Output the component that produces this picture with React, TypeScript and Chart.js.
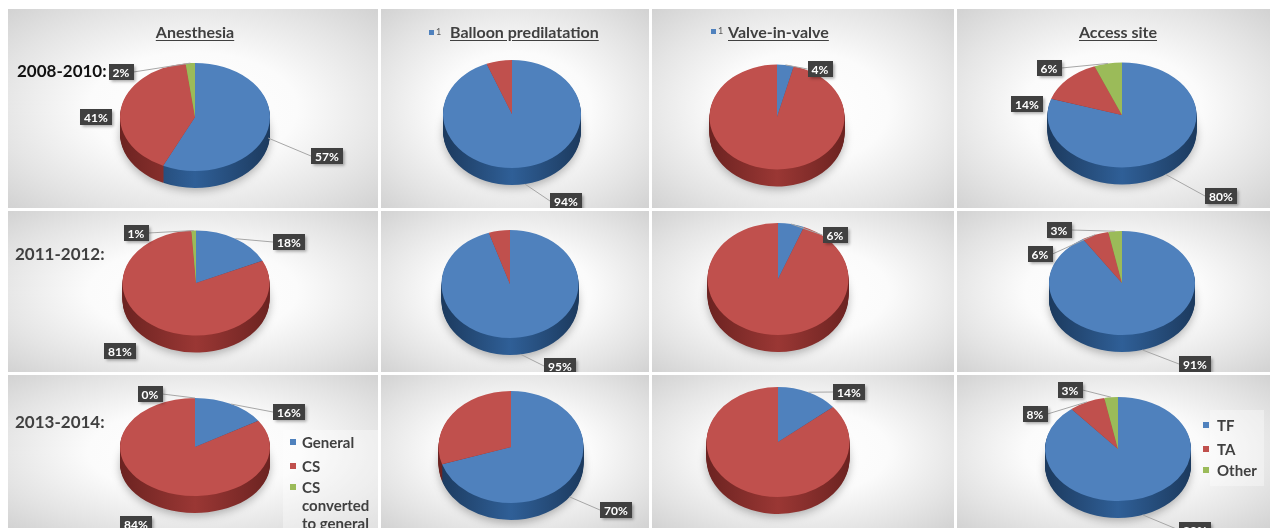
import React, { useEffect, useRef } from "react";
import { Chart, registerables } from "chart.js";

Chart.register(...registerables);

// ---------------- DATA ----------------
const columnTitles = ["Anesthesia", "Balloon predilatation", "Valve-in-valve", "Access site"];
const periodLabels = ["2008-2010:", "2011-2012:", "2013-2014:"];

const anesthesiaCategories = ["General", "CS", "CS converted to general"];
const balloonCategories = ["1", "2"];
const valveCategories = ["1", "2"];
const accessCategories = ["TF", "TA", "Other"];

const anesthesia2008 = [57, 41, 2];
const anesthesia2011 = [18, 81, 1];
const anesthesia2013 = [16, 84, 0];

const balloon2008 = [94, 6];
const balloon2011 = [95, 5];
const balloon2013 = [70, 30];

const valve2008 = [4, 96];
const valve2011 = [6, 94];
const valve2013 = [14, 86];

const access2008 = [80, 14, 6];
const access2011 = [91, 6, 3];
const access2013 = [89, 8, 3];

const categoriesByColumn = [anesthesiaCategories, balloonCategories, valveCategories, accessCategories];
const valuesGrid = [
  [anesthesia2008, balloon2008, valve2008, access2008],
  [anesthesia2011, balloon2011, valve2011, access2011],
  [anesthesia2013, balloon2013, valve2013, access2013],
];

// ---------------- LAYOUT / STYLE ----------------
const COLS = [
  { x: 8, w: 370 },
  { x: 381, w: 268 },
  { x: 652, w: 302 },
  { x: 957, w: 313 },
];
const ROWS = [
  { y: 9, h: 199 },
  { y: 211, h: 161 },
  { y: 375, h: 153 },
];

// pie center x, center y, horizontal radius, vertical radius (page coords)
const PIE_GEOM = [
  [[195, 117, 75, 54], [512, 114, 69, 54], [777, 117, 67.5, 52.5], [1122, 115, 74.5, 52.5]],
  [[196, 283, 73.5, 52.5], [510, 284, 68.5, 54], [778, 279, 70.5, 56], [1122, 283, 73, 52]],
  [[195, 447, 75, 49], [511, 447, 72.5, 56], [778, 442, 71.5, 55], [1118, 449, 73, 52]],
];
const DEPTH = 17;

// data-label box offsets from the pie centre [dx, dy, leaderLine]
const LABEL_POS = [
  [[[132, 39, 1], [-99, 0, 0], [-74, -45, 1]], [[54, 87, 1]], [[43, -48, 1]], [[99, 81, 1], [-95, -11, 0], [-73, -47, 1]]],
  [[[93, -41, 1], [-76, 68, 0], [-60, -50, 1]], [[50, 82, 1]], [[57, -44, 1]], [[73, 81, 1], [-82, -29, 1], [-63, -53, 1]]],
  [[[94, -35, 1], [-59, 77, 0], [-45, -53, 1]], [[105, 63, 1]], [[71, -50, 1]], [[77, 81, 1], [-83, -35, 1], [-48, -59, 1]]],
];

const TOP_COLORS = ["#4f81bd", "#c0504d", "#9bbb59"];
const SIDE_COLORS = [
  ["#1c3a5e", "#2f5f97"],
  ["#6c2321", "#9a3734"],
  ["#55692b", "#7a9541"],
];
const TEXT_DARK = "#404040";
const FONT = 'Lato, "Open Sans", "DejaVu Sans", sans-serif';

// ---------------- 3D PIE PLUGIN ----------------
const pie3d: any = {
  id: "pie3d",
  beforeDatasetsDraw(chart: any, _args: any, opts: any) {
    const arcs = chart.getDatasetMeta(0).data as any[];
    chart.$pie3dSaved = false;
    if (!arcs.length) return;
    const ctx = chart.ctx as CanvasRenderingContext2D;
    const { x: cx, y: cy, outerRadius: r } = arcs[0].getProps(["x", "y", "outerRadius"]);
    const k = opts.tilt;
    const d = opts.depth;
    const fills = SIDE_COLORS.map(([dark, mid]) => {
      const g = ctx.createLinearGradient(cx - r, 0, cx + r, 0);
      g.addColorStop(0, dark);
      g.addColorStop(0.5, mid);
      g.addColorStop(1, dark);
      return g;
    });
    for (let i = d; i >= 1; i--) {
      ctx.save();
      if (i === d) {
        ctx.shadowColor = "rgba(0,0,0,0.28)";
        ctx.shadowBlur = 9;
        ctx.shadowOffsetY = 3;
      }
      ctx.translate(cx, cy + i);
      ctx.scale(1, k);
      ctx.translate(-cx, -cy);
      arcs.forEach((arc: any, j: number) => {
        const p = arc.getProps(["startAngle", "endAngle"]);
        if (p.endAngle - p.startAngle <= 1e-6) return;
        ctx.beginPath();
        ctx.moveTo(cx, cy);
        ctx.arc(cx, cy, r, p.startAngle, p.endAngle);
        ctx.closePath();
        ctx.fillStyle = fills[j];
        ctx.fill();
      });
      ctx.restore();
    }
    ctx.save();
    ctx.translate(cx, cy);
    ctx.scale(1, k);
    ctx.translate(-cx, -cy);
    chart.$pie3dSaved = true;
  },
  afterDatasetsDraw(chart: any, _args: any, opts: any) {
    const ctx = chart.ctx as CanvasRenderingContext2D;
    if (!chart.$pie3dSaved) return;
    ctx.restore();
    chart.$pie3dSaved = false;
    const arcs = chart.getDatasetMeta(0).data as any[];
    const { x: cx, y: cy, outerRadius: r } = arcs[0].getProps(["x", "y", "outerRadius"]);
    const k = opts.tilt;
    const d = opts.depth;
    const values = chart.data.datasets[0].data as number[];
    (opts.labels as any[]).forEach((lab: any, i: number) => {
      if (!lab || !arcs[i]) return;
      const text = values[i] + "%";
      ctx.save();
      ctx.font = `bold 12px ${FONT}`;
      const tw = ctx.measureText(text).width;
      const bw = Math.round(tw + 8);
      const bh = 16;
      const lx = cx + lab[0];
      const ly = cy + lab[1];
      const bx0 = lx - bw / 2, bx1 = lx + bw / 2, by0 = ly - bh / 2, by1 = ly + bh / 2;
      if (lab[2]) {
        const p = arcs[i].getProps(["startAngle", "endAngle"]);
        const mid = (p.startAngle + p.endAngle) / 2;
        const s = Math.sin(mid);
        const ax = cx + r * Math.cos(mid);
        let ay = cy + r * k * s;
        if (s > 0) ay += d * Math.min(1, s * 2.5);
        let ex: number, ey: number;
        if (ax < bx0) { ex = bx0; ey = ly; }
        else if (ax > bx1) { ex = bx1; ey = ly; }
        else if (ay < by0) { ex = lx; ey = by0; }
        else { ex = lx; ey = by1; }
        ctx.strokeStyle = "#a6a6a6";
        ctx.lineWidth = 1;
        ctx.beginPath();
        ctx.moveTo(ax, ay);
        ctx.lineTo(ex, ey);
        ctx.stroke();
      }
      ctx.shadowColor = "rgba(0,0,0,0.35)";
      ctx.shadowBlur = 3;
      ctx.shadowOffsetX = 1.5;
      ctx.shadowOffsetY = 1.5;
      ctx.fillStyle = TEXT_DARK;
      ctx.fillRect(Math.round(bx0), Math.round(by0), bw, bh);
      ctx.shadowColor = "transparent";
      ctx.fillStyle = "#ffffff";
      ctx.textAlign = "center";
      ctx.textBaseline = "middle";
      ctx.fillText(text, Math.round(lx), Math.round(ly) + 1);
      ctx.restore();
    });
  },
};

// ---------------- COMPONENTS ----------------
function PiePanel(props: { ri: number; ci: number }) {
  const { ri, ci } = props;
  const ref = useRef<HTMLCanvasElement | null>(null);
  const col = COLS[ci];
  const row = ROWS[ri];
  useEffect(() => {
    const [acx, acy, rx, ry] = PIE_GEOM[ri][ci];
    const w = col.w, h = row.h;
    const cx = acx - col.x;
    const cy = acy - row.y;
    const padL = Math.max(0, 2 * cx - w);
    const padR = Math.max(0, w - 2 * cx);
    const padT = Math.max(0, 2 * cy - h);
    const padB = Math.max(0, h - 2 * cy);
    const values = valuesGrid[ri][ci];
    const chart = new Chart(ref.current as HTMLCanvasElement, {
      type: "pie",
      data: {
        labels: categoriesByColumn[ci],
        datasets: [
          {
            data: values,
            backgroundColor: TOP_COLORS.slice(0, values.length),
            borderWidth: 0,
            clip: false,
            radius: rx,
          } as any,
        ],
      },
      options: {
        responsive: false,
        animation: false,
        radius: rx,
        layout: { padding: { left: padL, right: padR, top: padT, bottom: padB } },
        plugins: {
          legend: { display: false },
          tooltip: { enabled: false },
          pie3d: { tilt: ry / rx, depth: DEPTH, labels: LABEL_POS[ri][ci] },
        } as any,
      } as any,
      plugins: [pie3d],
    });
    return () => chart.destroy();
  }, []);
  return (
    <div
      style={{
        position: "absolute",
        left: col.x,
        top: row.y,
        width: col.w,
        height: row.h,
        overflow: "hidden",
        background:
          "radial-gradient(ellipse farthest-corner at 50% 50%, #ffffff 0%, #fbfbfb 40%, #e4e4e4 75%, #d2d2d2 100%)",
      }}
    >
      <canvas ref={ref} width={col.w} height={row.h} style={{ display: "block", width: col.w, height: row.h }} />
    </div>
  );
}

const titleStyle: React.CSSProperties = {
  position: "absolute",
  top: 22,
  fontFamily: FONT,
  fontWeight: 700,
  fontSize: 16,
  lineHeight: "20px",
  color: TEXT_DARK,
  textDecoration: "underline",
  textUnderlineOffset: 2,
  whiteSpace: "nowrap",
};

const legendText: React.CSSProperties = {
  position: "absolute",
  fontFamily: FONT,
  fontWeight: 700,
  fontSize: 15,
  lineHeight: "18px",
  color: TEXT_DARK,
};

function Square(props: { x: number; y: number; color: string; size?: number }) {
  const s = props.size ?? 6;
  return (
    <div style={{ position: "absolute", left: props.x, top: props.y - s / 2, width: s, height: s, background: props.color }} />
  );
}

export default function App() {
  const rowLabelPos = [
    { x: 17, y: 71, color: "#111111" },
    { x: 15, y: 254, color: TEXT_DARK },
    { x: 15, y: 422, color: TEXT_DARK },
  ];
  const anesthesiaLegendY = [442, 466, 487];
  const accessLegendY = [425, 449, 470];
  return (
    <div
      style={{
        position: "fixed",
        left: 0,
        top: 0,
        width: 1274,
        height: 528,
        overflow: "hidden",
        background: "#ffffff",
        fontFamily: FONT,
      }}
    >
      {ROWS.map((_r, ri) => COLS.map((_c, ci) => <PiePanel key={`${ri}-${ci}`} ri={ri} ci={ci} />))}

      {/* column titles */}
      <div style={{ ...titleStyle, left: 195 - 60, width: 120, textAlign: "center" }}>{columnTitles[0]}</div>
      <Square x={429} y={32} color={TOP_COLORS[0]} size={5} />
      <div style={{ position: "absolute", left: 436, top: 26, fontSize: 9, fontFamily: FONT, color: "#595959" }}>
        {balloonCategories[0]}
      </div>
      <div style={{ ...titleStyle, left: 450 }}>{columnTitles[1]}</div>
      <Square x={711} y={31} color={TOP_COLORS[0]} size={5} />
      <div style={{ position: "absolute", left: 718, top: 25, fontSize: 9, fontFamily: FONT, color: "#595959" }}>
        {valveCategories[0]}
      </div>
      <div style={{ ...titleStyle, left: 728 }}>{columnTitles[2]}</div>
      <div style={{ ...titleStyle, left: 1118 - 60, width: 120, textAlign: "center" }}>{columnTitles[3]}</div>

      {/* period labels */}
      {periodLabels.map((p, i) => (
        <div
          key={p}
          style={{
            position: "absolute",
            left: rowLabelPos[i].x,
            top: rowLabelPos[i].y - 11,
            fontFamily: FONT,
            fontWeight: 700,
            fontSize: 17,
            lineHeight: "22px",
            color: rowLabelPos[i].color,
            whiteSpace: "nowrap",
          }}
        >
          {p}
        </div>
      ))}

      {/* anesthesia legend */}
      <div style={{ position: "absolute", left: 283, top: 430, width: 95, height: 98, background: "rgba(255,255,255,0.35)" }} />
      {anesthesiaCategories.map((c, i) => (
        <React.Fragment key={c}>
          <Square x={290} y={anesthesiaLegendY[i]} color={TOP_COLORS[i]} />
          <div style={{ ...legendText, left: 302, top: anesthesiaLegendY[i] - 9, width: 76 }}>{c}</div>
        </React.Fragment>
      ))}

      {/* access legend */}
      <div style={{ position: "absolute", left: 1210, top: 410, width: 54, height: 76, background: "rgba(255,255,255,0.35)" }} />
      {accessCategories.map((c, i) => (
        <React.Fragment key={c}>
          <Square x={1203} y={accessLegendY[i]} color={TOP_COLORS[i]} />
          <div style={{ ...legendText, left: 1217, top: accessLegendY[i] - 9, whiteSpace: "nowrap" }}>{c}</div>
        </React.Fragment>
      ))}
    </div>
  );
}
